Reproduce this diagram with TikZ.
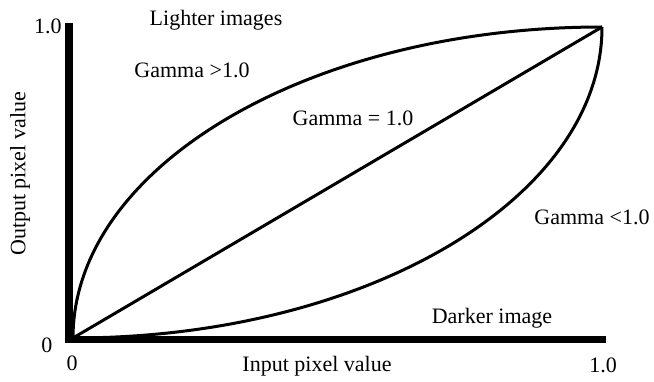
\documentclass[tikz,border=0pt]{standalone}
\usepackage{fontspec}
\setmainfont{Liberation Serif}
\usetikzlibrary{calc}

\begin{document}
\begin{tikzpicture}[x=1pt, y=1pt,
    txt/.style ={inner sep = 0pt, font=\fontsize{22}{26}\selectfont},
    curve/.style ={line width=3pt},
    axis/.style ={line width=7.5pt}]
   \useasboundingbox (0,0) rectangle (654,381);
   \coordinate (O) at (73,43);
   \coordinate (T) at (602,354);
   \coordinate (ytop) at (69,358);
   \coordinate (ybot) at (69,38);
   \coordinate (xleft) at (65,42);
   \coordinate (xright) at (606,42);

   \draw[axis] (ytop) to (ybot);
   \draw[axis, line width=7pt] (xleft) to (xright);

   \draw[curve] (O) arc[start angle=180, end angle=90, x radius=529pt, y radius=311pt];
   \draw[curve] (O) arc[start angle=270, end angle=360, x radius=529pt, y radius=311pt];
   \draw[curve] (O) to (T);

   \node[txt] (ymax)    at (48,355)  {1.0};
   \node[txt] (ymin)    at (47,36)   {0};
   \node[txt] (xmin)    at (72,18)   {0};
   \node[txt] (xmax)    at (603,16)  {1.0};
   \node[txt] (xlabel)  at (317,15)  {Input pixel value};
   \node[txt, rotate=90] (ylabel) at (20,207) {Output pixel value};
   \node[txt] (lighter) at (216,361) {Lighter images};
   \node[txt] (darker)  at (492,63)  {Darker image};
   \node[txt] (gbig)    at (192,311) {Gamma >1.0};
   \node[txt] (gone)    at (353,263) {Gamma = 1.0};
   \node[txt] (gsmall)  at (592,164) {Gamma <1.0};
 \end{tikzpicture}
\end{document}
